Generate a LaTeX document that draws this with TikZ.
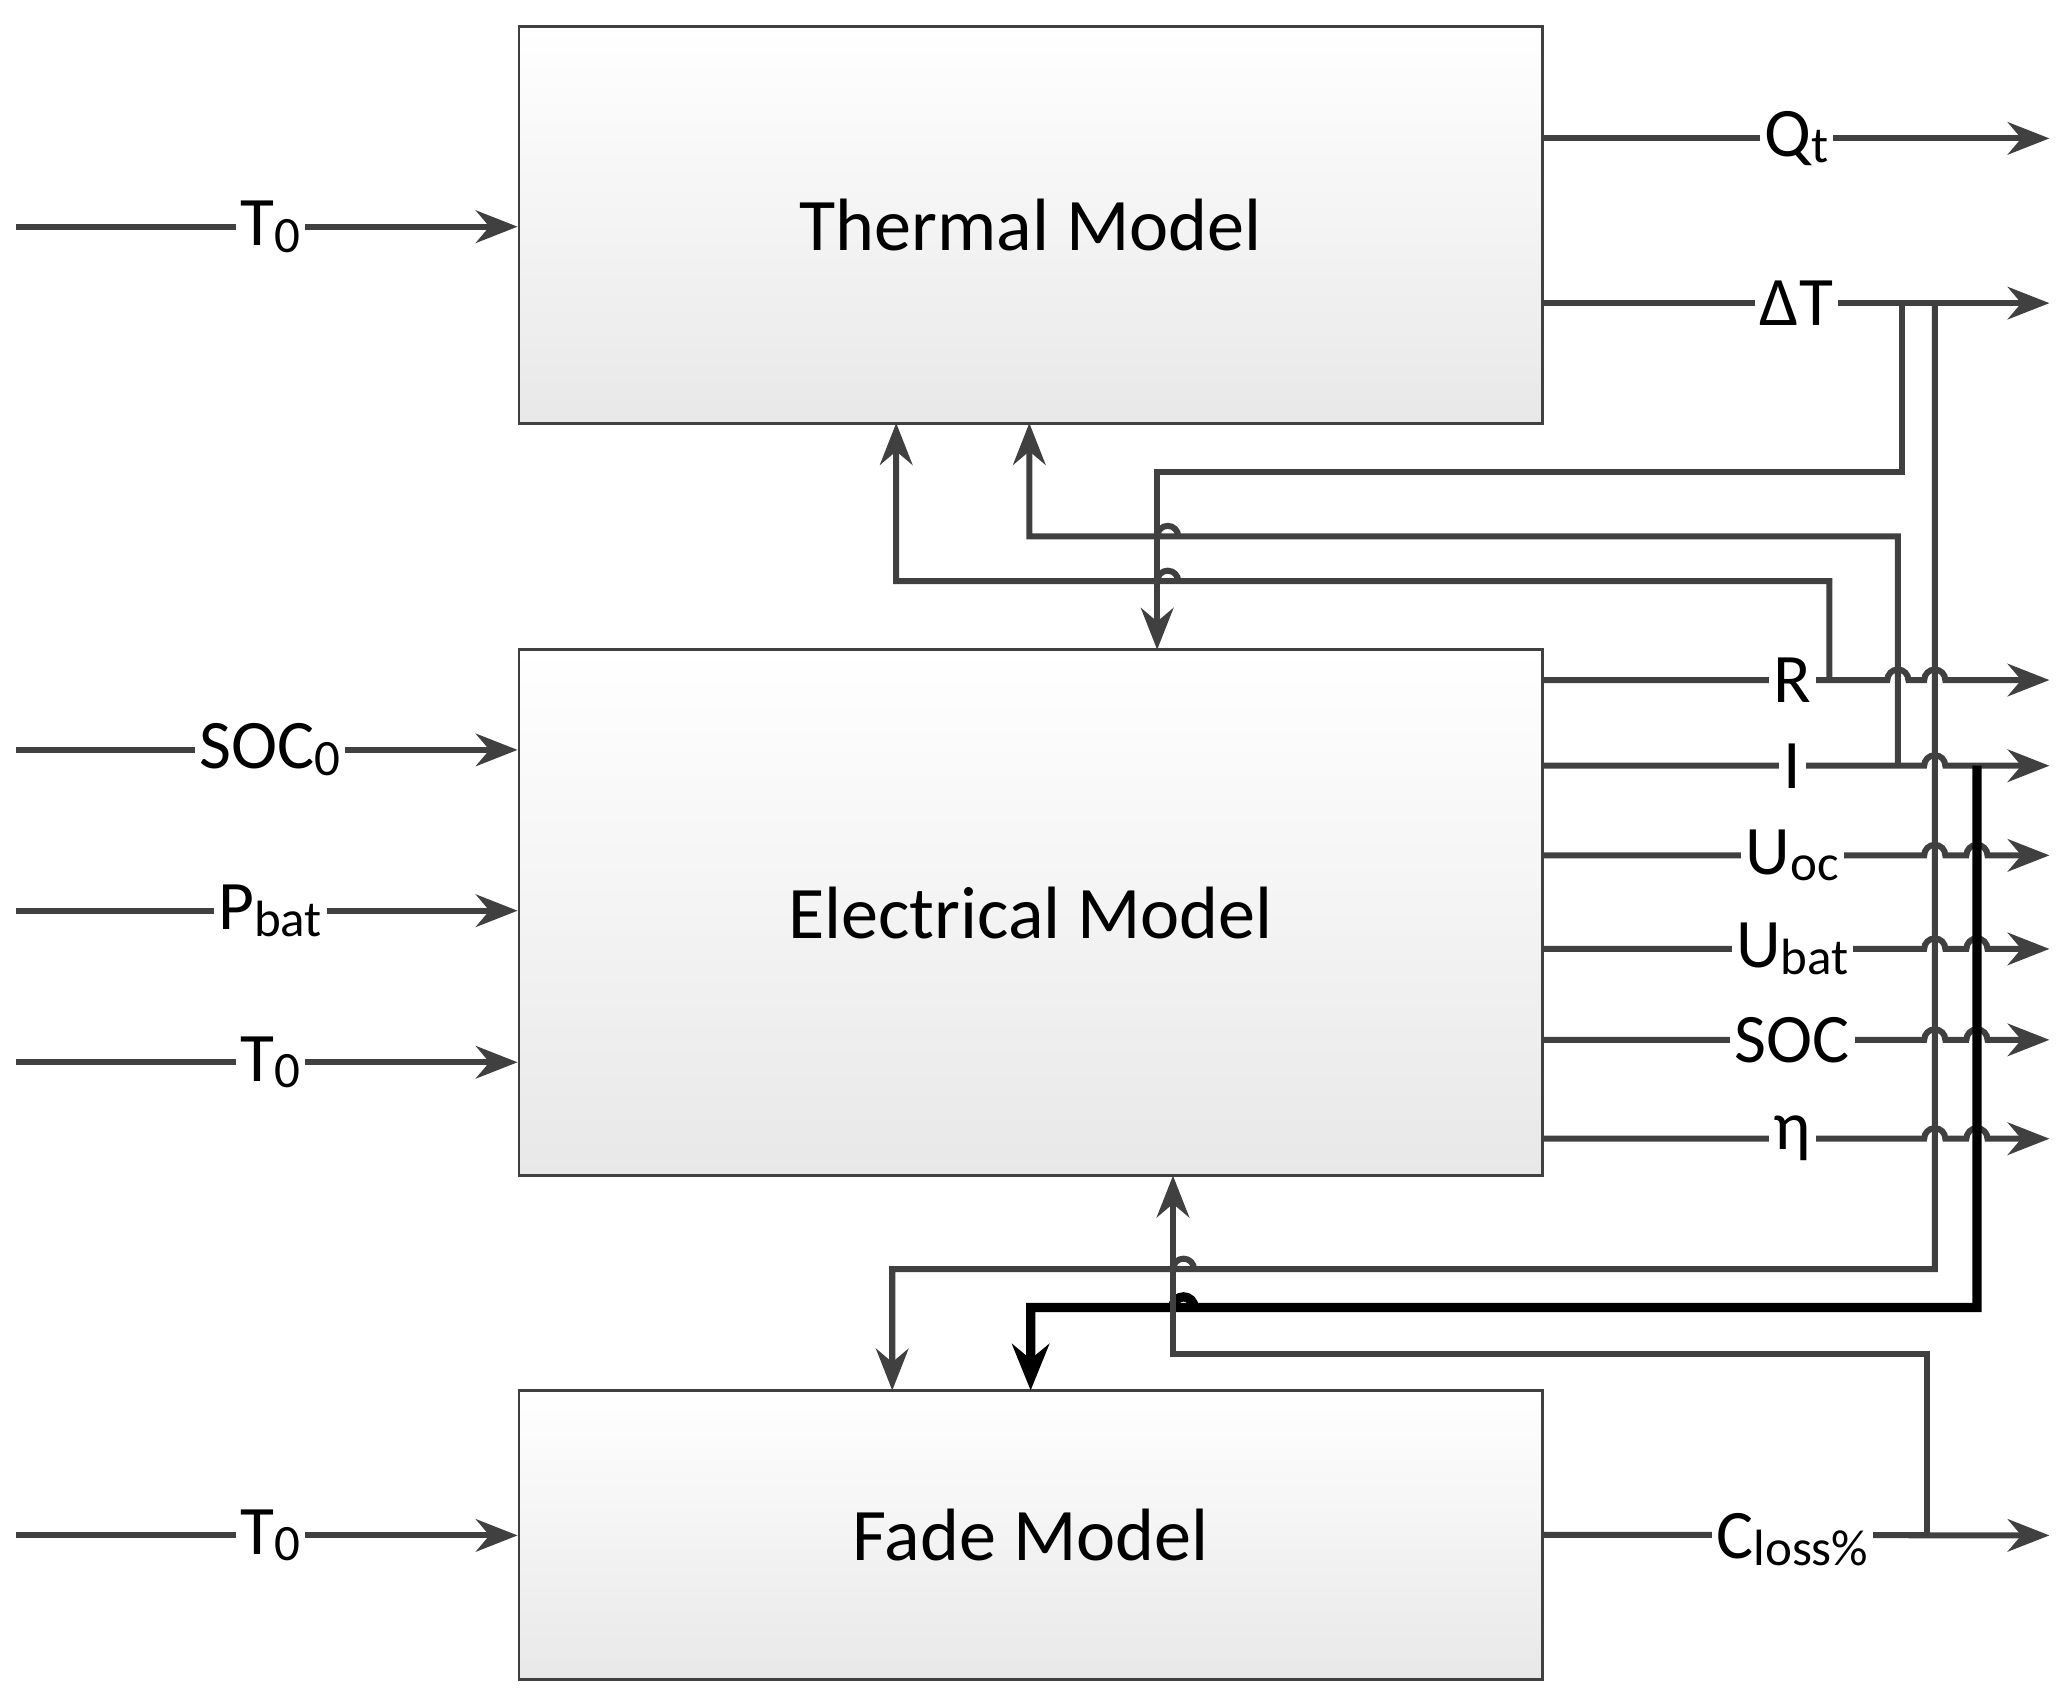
\documentclass[tikz,border=0pt]{standalone}
\usepackage{fontspec}
\setmainfont{Carlito}
\usetikzlibrary{arrows.meta}
\definecolor{linegray}{HTML}{404040}
\tikzset{
    model/.style={draw=linegray,line width=0.6pt,top color=white,bottom color=gray!18,
        minimum width=7.76cm,minimum height=#1,font=\fontsize{16}{19}\selectfont},
    arr/.style={draw=linegray,line width=1.3pt,-{Stealth[length=9pt,width=7pt]}},
    lbl/.style={fill=white,inner sep=1pt,font=\fontsize{15}{18}\selectfont},
}
\newcommand{\sub}[1]{\raisebox{-0.2ex}{\fontsize{11}{13}\selectfont #1}}
\newcommand{\hop}[2]{-- ({#1-8},#2) arc[start angle=180,end angle=0,radius=0.08cm]}
\begin{document}
\begin{tikzpicture}[x=0.01cm,y=-0.01cm]
    \useasboundingbox (0,0) rectangle (1560,1282);
    \node[model=3.01cm] (thermal) at (782,170.5) {Thermal Model};
    \node[model=3.99cm] (elec) at (782,692.5) {Electrical Model};
    \node[model=2.19cm] (fade) at (782,1164.5) {Fade Model};

    % inputs
    \foreach \y/\t/\m in {172/T\sub{0}/thermal, 569/SOC\sub{0}/elec, 691/P\sub{bat}/elec, 806/T\sub{0}/elec, 1165/T\sub{0}/fade}{
        \coordinate (in) at (12,\y);
        \draw[arr] (in) -- (in -| \m.west);
        \node[lbl] at (205,\y) {\t};
    }

    % thermal outputs
    \coordinate (qt) at (1555,105);
    \coordinate (dt) at (1555,230);
    \draw[arr] (qt -| thermal.east) -- (qt);
    \draw[arr] (dt -| thermal.east) -- (dt);
    \node[lbl] at (1363,105) {Q\sub{t}};
    \node[lbl] at (1363,230) {ΔT};

    % electrical outputs
    \draw[arr] (1170,516) -- (1388,516) \hop{1440}{516} \hop{1468}{516} -- (1555,516);
    \draw[arr] (1170,581) -- (1440,581) \hop{1468}{581} -- (1555,581);
    \foreach \y in {649,720,789,864}{
        \draw[arr] (1170,\y) \hop{1468}{\y} \hop{1500}{\y} -- (1555,\y);
    }
    \node[lbl] at (1360,516) {R};
    \node[lbl] at (1360,581) {I};
    \node[lbl] at (1360,649) {U\sub{oc}};
    \node[lbl] at (1360,720) {U\sub{bat}};
    \node[lbl] at (1360,789) {SOC};
    \node[lbl] at (1360,864) {η};

    % fade output
    \draw[arr] (fade.east) -- (1555,1165);
    \node[lbl] at (1360,1168) {C\sub{loss\%}};

    % feedback paths
    \draw[arr] (1443,230) -- (1443,358) -- (878,358) -- (878,493);
    \draw[arr] (1440,581) -- (1440,407) \hop{886}{407} -- (781,407) -- (781,321);
    \draw[arr] (1388,516) -- (1388,441) \hop{886}{441} -- (680,441) -- (680,321);
    \draw[arr] (1468,230) -- (1468,963) \hop{898}{963} -- (677,963) -- (677,1055);
    \draw[draw=black,line width=2pt,-{Stealth[length=10pt,width=8pt]}] (1500,581) -- (1500,992) \hop{898}{992} -- (782,992) -- (782,1055);
    \draw[arr] (1462,1165) -- (1462,1027) -- (890,1027) -- (890,892);
\end{tikzpicture}
\end{document}
